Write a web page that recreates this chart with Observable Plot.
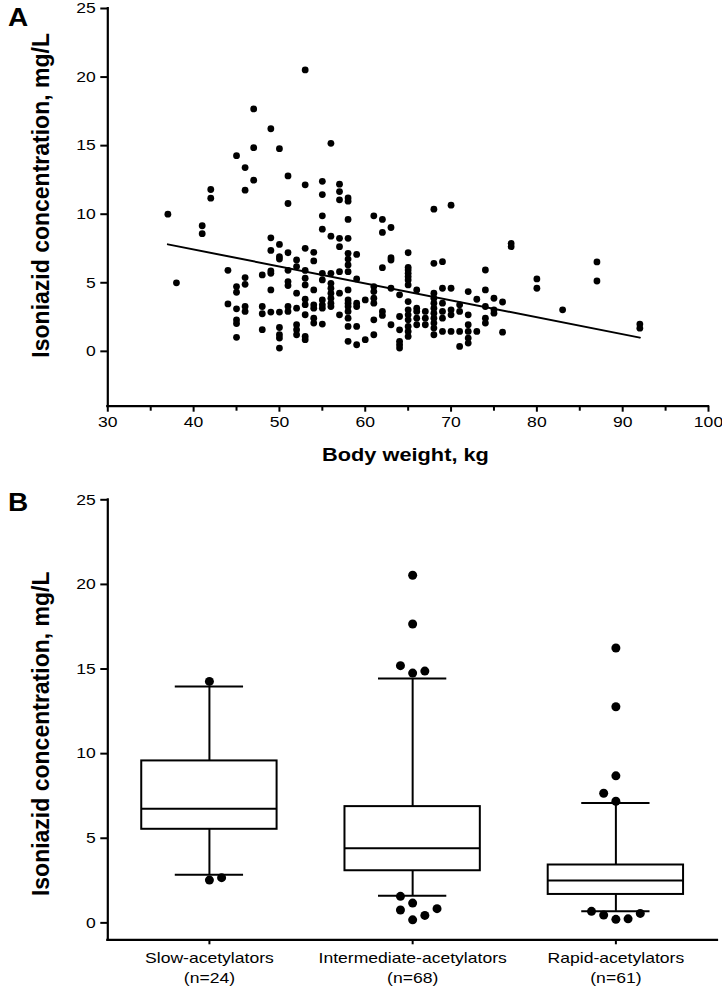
<!DOCTYPE html>
<html>
<head>
<meta charset="utf-8">
<script src="https://cdn.jsdelivr.net/npm/d3@7"></script>
<script src="https://cdn.jsdelivr.net/npm/@observablehq/plot@0.6"></script>
<style>
html, body { margin: 0; padding: 0; background: #fff; }
#fig { position: relative; width: 722px; height: 990px; overflow: hidden; background: #fff;
  font-family: "Liberation Sans", Arial, Helvetica, sans-serif; }
.panel { position: absolute; left: 8px; font-weight: bold; font-size: 25px; line-height: 1; color: #000;
  transform: scaleX(1.12); transform-origin: left top; }
.chart { position: absolute; left: 0; }
</style>
</head>
<body>
<div id="fig">
  <div class="chart" id="chartA" style="top:0px"></div>
  <div class="chart" id="chartB" style="top:480px"></div>
  <div class="panel" style="top:5px">A</div>
  <div class="panel" style="top:490px">B</div>
</div>
<script>
// ---------- Panel A data: body weight (kg) and isoniazid concentration (mg/L) ----------
const weights = [37, 38, 41, 42, 44, 45, 46, 47, 48, 49, 50, 51, 52, 53, 54, 55, 56, 57, 58, 59, 60,
  61, 62, 63, 64, 65, 66, 67, 68, 69, 70, 71, 72, 73, 74, 75, 76, 77, 80, 83, 87, 92];
const concByWeight = [
  [10.0],
  [5.0],
  [9.16, 8.58],
  [11.8, 11.17],
  [5.91, 3.46],
  [14.27, 4.72, 4.31, 3.1, 2.3, 2.03, 1.02],
  [13.4, 11.75, 5.38, 4.89, 3.27, 2.91],
  [17.68, 14.85, 12.48],
  [5.57, 3.27, 2.74, 1.58],
  [16.23, 8.28, 7.36, 5.86, 5.69, 4.48, 2.86],
  [14.78, 7.8, 6.9, 6.73, 2.86, 1.74, 1.21, 0.97, 0.24],
  [12.79, 10.78, 7.19, 5.91, 5.09, 4.8, 3.27, 2.91],
  [6.66, 6.18, 4.24, 3.15, 1.94, 1.58, 1.21],
  [20.52, 12.14, 7.51, 5.9, 5.33, 4.84, 3.8, 3.4, 2.67, 1.09, 0.85],
  [7.22, 6.59, 4.48, 3.39, 3.15, 2.42, 2.06],
  [12.4, 11.43, 9.88, 8.91, 5.69, 5.21, 3.75, 3.39, 3.15, 1.99],
  [15.17, 8.4, 5.69, 4.96, 4.6, 4.24, 3.87, 3.51, 3.27],
  [12.19, 11.65, 11.05, 8.24, 7.63, 5.81, 4.24, 2.66],
  [11.19, 10.95, 9.62, 8.24, 7.15, 6.73, 6.3, 5.81, 4.48, 3.75, 3.51, 3.27, 2.91, 2.42, 1.82, 0.73],
  [7.07, 5.28, 3.51, 3.27, 1.82, 0.48],
  [3.75, 0.85],
  [9.88, 4.72, 4.36, 3.87, 3.51, 2.3, 1.21],
  [9.62, 8.67, 6.1, 2.91, 2.62],
  [9.03, 6.83, 6.66, 4.6, 1.94],
  [4.12, 2.54, 1.57, 0.73, 0.48, 0.24],
  [7.19, 6.13, 5.93, 5.69, 5.45, 5.21, 4.84, 3.63, 3.03, 2.66, 2.3, 1.82, 1.45, 1.09],
  [4.48, 3.15, 2.91, 2.42, 1.94],
  [2.91, 2.42, 1.94],
  [10.37, 6.42, 4.24, 3.87, 3.51, 3.15, 2.78, 2.42, 2.06, 1.7, 1.21],
  [6.54, 4.6, 3.51, 2.91, 2.42, 1.45],
  [10.66, 4.6, 3.03, 2.66, 1.45],
  [3.39, 2.91, 1.45, 0.36],
  [4.36, 2.66, 1.94, 1.45, 0.97, 0.6],
  [3.8, 1.45],
  [5.93, 4.48, 3.27, 2.42, 2.06],
  [3.87, 3.03, 2.78],
  [3.6, 1.4],
  [7.87, 7.63],
  [5.28, 4.6],
  [3.03],
  [6.52, 5.13],
  [1.99, 1.69]
];
// fitted regression line end points
const fitWeight = [37, 92];
const fitConc = [7.8, 1.0];
const xTicksA = [30, 40, 50, 60, 70, 80, 90, 100];
const xMinorTicksA = [35, 45, 55, 65, 75, 85, 95];
const yTicks = [0, 5, 10, 15, 20, 25];

// ---------- Panel B data: box plot summaries ----------
const groups = ["Slow-acetylators", "Intermediate-acetylators", "Rapid-acetylators"];
const groupN = [24, 68, 61];
const whiskerLow = [2.85, 1.6, 0.68];
const q1 = [5.53, 3.08, 1.68];
const median = [6.75, 4.41, 2.51];
const q3 = [9.57, 6.87, 3.42];
const whiskerHigh = [13.97, 14.44, 7.09];
const outlierGroup = [0, 0, 0, 1, 1, 1, 1, 1, 1, 1, 1, 1, 1, 1, 2, 2, 2, 2, 2, 2, 2, 2, 2, 2];
const outlierValue = [14.27, 2.53, 2.67, 20.54, 17.66, 15.2, 14.76, 14.88, 1.57, 1.17, 0.76, 0.84, 0.44, 0.18,
  16.24, 12.77, 8.69, 7.66, 7.19, 0.68, 0.46, 0.21, 0.24, 0.56];
const outlierSlot = [0, 0, 1, 0, 0, -1, 0, 1, -1, 0, -1, 2, 1, 0, 0, 0, 0, -1, 0, -2, -1, 0, 1, 2];

// ---------- build tables ----------
const scatter = weights.flatMap((w, i) => concByWeight[i].map(c => ({weight: w, conc: c})));
const fit = fitWeight.map((w, i) => ({weight: w, conc: fitConc[i]}));
const boxes = groups.map((g, i) => ({i, group: g, n: groupN[i], lo: whiskerLow[i], q1: q1[i], med: median[i], q3: q3[i], hi: whiskerHigh[i]}));
const slotWidth = 0.06;
const outliers = outlierValue.map((v, k) => ({x: outlierGroup[k] + outlierSlot[k] * slotWidth, v}));

const fontFamily = '"Liberation Sans", Arial, Helvetica, sans-serif';
const baseStyle = {fontFamily, fontSize: "15px", color: "#000", background: "#fff", overflow: "visible"};
const yTitle = "Isoniazid concentration, mg/L";

const plotA = Plot.plot({
  width: 722, height: 470,
  marginLeft: 107.3, marginRight: 14, marginTop: 8, marginBottom: 64.3,
  style: baseStyle,
  x: {domain: [30, 100]},
  y: {domain: [-4, 25]},
  marks: [
    Plot.axisY({ticks: yTicks, tickSize: 7, tickPadding: 5, strokeWidth: 2, label: null}),
    Plot.axisX({ticks: xTicksA, tickSize: 6, tickPadding: 4, strokeWidth: 2, label: null}),
    Plot.axisX({ticks: xMinorTicksA, tickSize: 5, tickFormat: () => "", strokeWidth: 2, label: null}),
    Plot.ruleX([30], {strokeWidth: 2.2, strokeLinecap: "square"}),
    Plot.ruleY([-4], {strokeWidth: 2.2, strokeLinecap: "square"}),
    Plot.line(fit, {x: "weight", y: "conc", strokeWidth: 2, stroke: "#000"}),
    Plot.dot(scatter, {x: "weight", y: "conc", r: 3.4, fill: "#000", stroke: "none"}),
    Plot.text([yTitle], {frameAnchor: "left", rotate: -90, dx: -66, dy: -12, fontSize: 23, fontWeight: "bold", lineAnchor: "middle", textAnchor: "middle"}),
    Plot.text(["Body weight, kg"], {frameAnchor: "bottom", dx: -2.7, dy: 49.3, fontSize: 18.6, fontWeight: "bold", lineAnchor: "middle", textAnchor: "middle"})
  ]
});

const capHalf = 0.168, boxHalf = 0.333;
const plotB = Plot.plot({
  width: 722, height: 510,
  marginLeft: 107.3, marginRight: 5, marginTop: 19.3, marginBottom: 50.7,
  style: baseStyle,
  x: {domain: [-0.5, 2.5]},
  y: {domain: [-1, 25]},
  marks: [
    Plot.axisY({ticks: yTicks, tickSize: 7, tickPadding: 5, strokeWidth: 2, label: null}),
    Plot.axisX({ticks: [0, 1, 2], tickSize: 5, tickFormat: () => "", strokeWidth: 2, label: null}),
    Plot.ruleX([-0.5], {strokeWidth: 2.2, strokeLinecap: "square"}),
    Plot.ruleY([-1], {strokeWidth: 2.2, strokeLinecap: "square"}),
    Plot.ruleX(boxes, {x: "i", y1: "lo", y2: "q1", strokeWidth: 2}),
    Plot.ruleX(boxes, {x: "i", y1: "q3", y2: "hi", strokeWidth: 2}),
    Plot.ruleY(boxes, {y: "lo", x1: d => d.i - capHalf, x2: d => d.i + capHalf, strokeWidth: 2}),
    Plot.ruleY(boxes, {y: "hi", x1: d => d.i - capHalf, x2: d => d.i + capHalf, strokeWidth: 2}),
    Plot.rect(boxes, {x1: d => d.i - boxHalf, x2: d => d.i + boxHalf, y1: "q1", y2: "q3", fill: "#fff", stroke: "#000", strokeWidth: 2}),
    Plot.ruleY(boxes, {y: "med", x1: d => d.i - boxHalf, x2: d => d.i + boxHalf, strokeWidth: 2}),
    Plot.dot(outliers, {x: "x", y: "v", r: 4.5, fill: "#000", stroke: "none"}),
    Plot.text(boxes, {x: "i", frameAnchor: "bottom", dy: 10, text: d => `${d.group}\n(n=${d.n})`, lineAnchor: "top", lineHeight: 1.28, fontSize: 15}),
    Plot.text([yTitle], {frameAnchor: "left", rotate: -90, dx: -66, dy: 14, fontSize: 23, fontWeight: "bold", lineAnchor: "middle", textAnchor: "middle"})
  ]
});

document.getElementById("chartA").appendChild(plotA);
document.getElementById("chartB").appendChild(plotB);

// The reference figure's lettering is horizontally widened (~1.17x); mimic with textLength.
const stretch = 1.17;
function widen(svg) {
  svg.querySelectorAll("text").forEach(t => {
    const tr = t.getAttribute("transform") || "";
    if (tr.includes("rotate")) return;
    try {
      const spans = t.querySelectorAll("tspan");
      if (spans.length) {
        spans.forEach(s => {
          const L = s.getComputedTextLength();
          if (L > 0) { s.setAttribute("textLength", (L * stretch).toFixed(2)); s.setAttribute("lengthAdjust", "spacingAndGlyphs"); }
        });
      } else {
        const L = t.getComputedTextLength();
        if (L > 0) { t.setAttribute("textLength", (L * stretch).toFixed(2)); t.setAttribute("lengthAdjust", "spacingAndGlyphs"); }
      }
    } catch (e) {}
  });
}
widen(plotA);
widen(plotB);
</script>
</body>
</html>
